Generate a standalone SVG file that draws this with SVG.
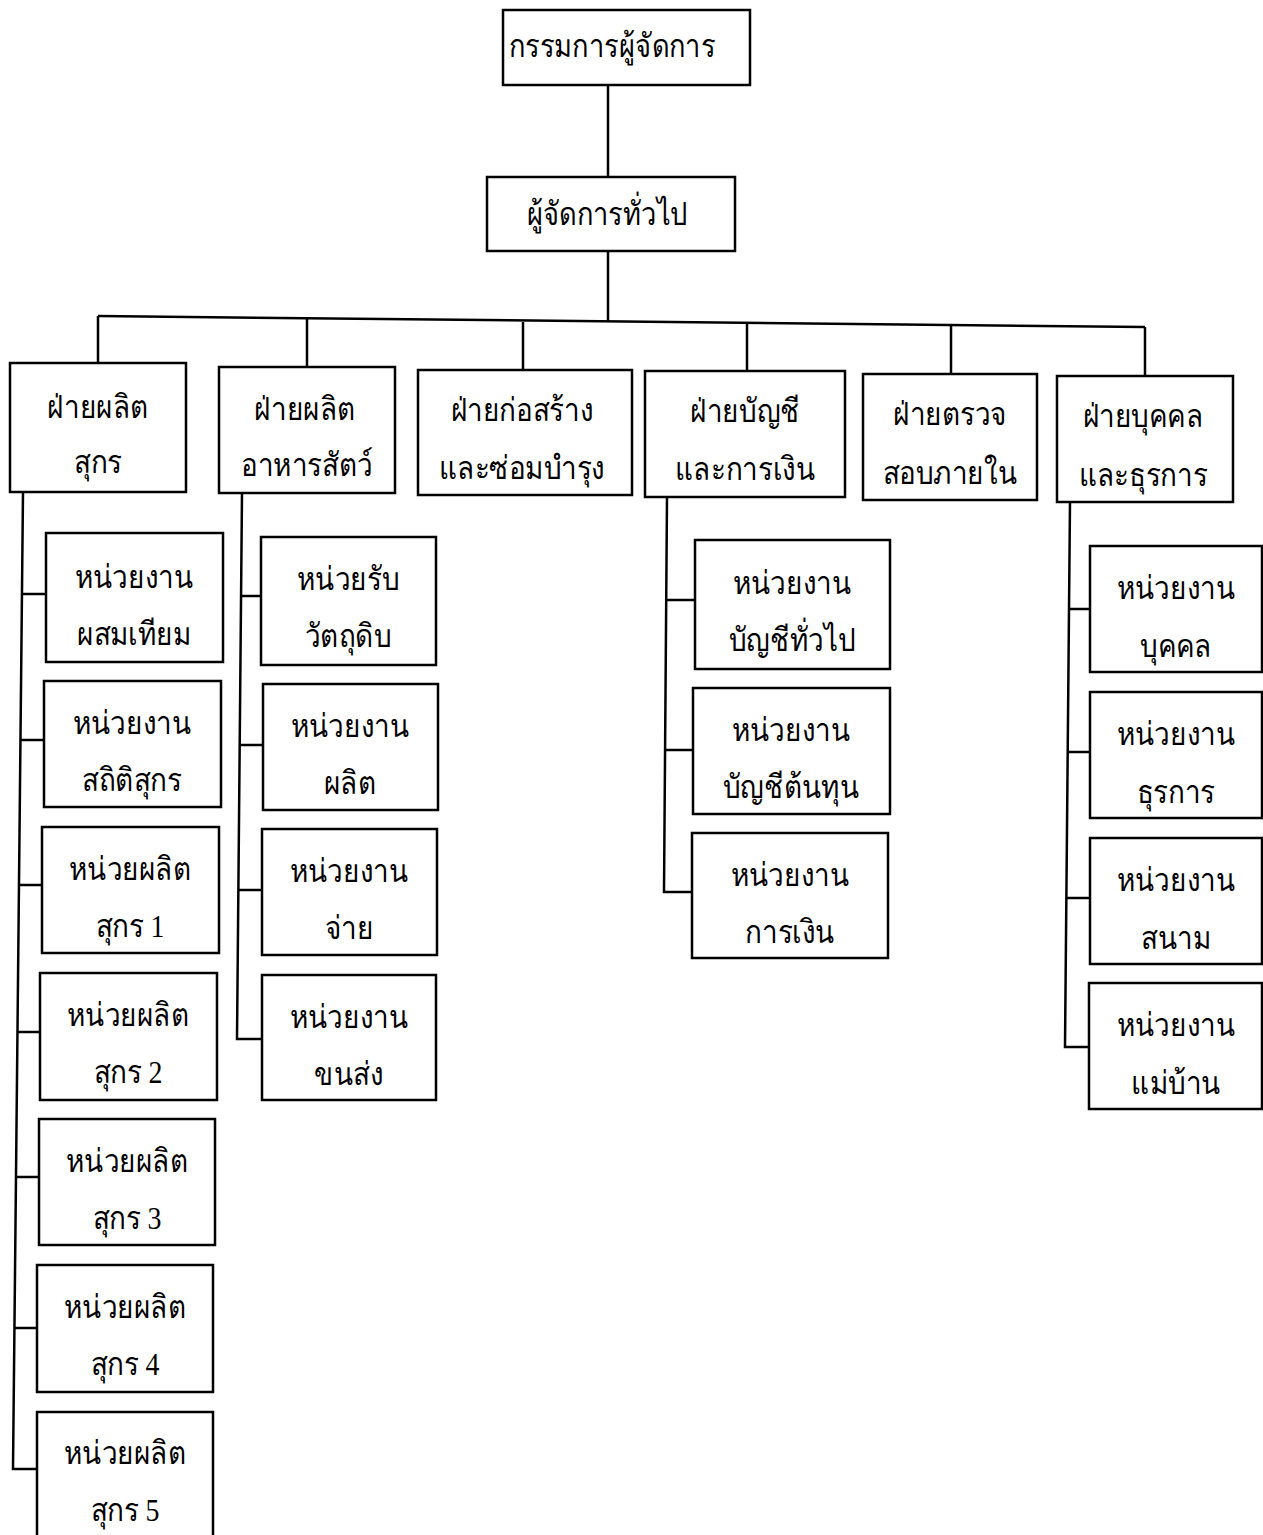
<svg xmlns="http://www.w3.org/2000/svg" width="1263" height="1535" viewBox="0 0 1263 1535">
<style>
.box{fill:#fff;stroke:#000;stroke-width:2.5}
.ln{fill:none;stroke:#000;stroke-width:2.5}
text{font-family:"Liberation Serif","Noto Sans",serif;font-size:31px;fill:#000;text-anchor:middle}
</style>
<rect width="1263" height="1535" fill="#fff"/>
<g id="connectors">
<line class="ln" x1="608" y1="85" x2="608" y2="177"/>
<line class="ln" x1="608" y1="251" x2="608" y2="322"/>
<line class="ln" x1="98" y1="316" x2="1145" y2="327"/>
<line class="ln" x1="98" y1="316" x2="98" y2="363"/>
<line class="ln" x1="307" y1="319" x2="307" y2="367"/>
<line class="ln" x1="523" y1="322" x2="523" y2="370"/>
<line class="ln" x1="747" y1="324" x2="747" y2="371"/>
<line class="ln" x1="951" y1="326" x2="951" y2="374"/>
<line class="ln" x1="1145" y1="327" x2="1145" y2="376"/>
<polyline class="ln" points="23,492 13,1469 37,1469"/>
<line class="ln" x1="22" y1="594" x2="46" y2="594"/>
<line class="ln" x1="21" y1="740" x2="44" y2="740"/>
<line class="ln" x1="19" y1="885" x2="42" y2="885"/>
<line class="ln" x1="18" y1="1032" x2="40" y2="1032"/>
<line class="ln" x1="16" y1="1177" x2="39" y2="1177"/>
<line class="ln" x1="15" y1="1328" x2="37" y2="1328"/>
<polyline class="ln" points="242,493 237,1039 262,1039"/>
<line class="ln" x1="241" y1="596" x2="261" y2="596"/>
<line class="ln" x1="239" y1="745" x2="263" y2="745"/>
<line class="ln" x1="238" y1="890" x2="262" y2="890"/>
<polyline class="ln" points="667,497 664,892 692,892"/>
<line class="ln" x1="666" y1="600" x2="695" y2="600"/>
<line class="ln" x1="665" y1="750" x2="693" y2="750"/>
<polyline class="ln" points="1070,502 1065,1047 1089,1047"/>
<line class="ln" x1="1069" y1="609" x2="1090" y2="609"/>
<line class="ln" x1="1068" y1="752" x2="1090" y2="752"/>
<line class="ln" x1="1066" y1="898" x2="1090" y2="898"/>
</g>
<g id="n-md"><rect class="box" x="503" y="10" width="247" height="75"/><text transform="translate(612 57) scale(0.88 1.05)">กรรมการผู้จัดการ</text></g>
<g id="n-gm"><rect class="box" x="487" y="177" width="248" height="74"/><text transform="translate(607 225) scale(0.88 1.05)">ผู้จัดการทั่วไป</text></g>
<g id="n-d1"><rect class="box" x="10" y="363" width="176" height="129"/><text transform="translate(98 418) scale(0.9 1.05)">ฝ่ายผลิต</text><text transform="translate(98 473) scale(0.9 1.05)">สุกร</text></g>
<g id="n-d2"><rect class="box" x="219" y="367" width="176" height="126"/><text transform="translate(305 420) scale(0.9 1.05)">ฝ่ายผลิต</text><text transform="translate(307 476) scale(0.9 1.05)">อาหารสัตว์</text></g>
<g id="n-d3"><rect class="box" x="418" y="370" width="214" height="125"/><text transform="translate(522 421) scale(0.9 1.05)">ฝ่ายก่อสร้าง</text><text transform="translate(522 479) scale(0.9 1.05)">และซ่อมบำรุง</text></g>
<g id="n-d4"><rect class="box" x="645" y="371" width="200" height="126"/><text transform="translate(745 422) scale(0.9 1.05)">ฝ่ายบัญชี</text><text transform="translate(745 480) scale(0.9 1.05)">และการเงิน</text></g>
<g id="n-d5"><rect class="box" x="863" y="374" width="174" height="126"/><text transform="translate(950 425) scale(0.9 1.05)">ฝ่ายตรวจ</text><text transform="translate(950 484) scale(0.9 1.05)">สอบภายใน</text></g>
<g id="n-d6"><rect class="box" x="1057" y="376" width="176" height="126"/><text transform="translate(1143 427) scale(0.9 1.05)">ฝ่ายบุคคล</text><text transform="translate(1143 486) scale(0.9 1.05)">และธุรการ</text></g>
<g id="n-a1"><rect class="box" x="46" y="533" width="177" height="129"/><text transform="translate(134 588) scale(0.9 1.05)">หน่วยงาน</text><text transform="translate(134 645) scale(0.9 1.05)">ผสมเทียม</text></g>
<g id="n-a2"><rect class="box" x="44" y="681" width="177" height="126"/><text transform="translate(132 734) scale(0.9 1.05)">หน่วยงาน</text><text transform="translate(132 791) scale(0.9 1.05)">สถิติสุกร</text></g>
<g id="n-a3"><rect class="box" x="42" y="827" width="177" height="126"/><text transform="translate(130 880) scale(0.9 1.05)">หน่วยผลิต</text><text transform="translate(130 937) scale(0.9 1.05)">สุกร 1</text></g>
<g id="n-a4"><rect class="box" x="40" y="973" width="177" height="127"/><text transform="translate(128 1026) scale(0.9 1.05)">หน่วยผลิต</text><text transform="translate(128 1083) scale(0.9 1.05)">สุกร 2</text></g>
<g id="n-a5"><rect class="box" x="39" y="1119" width="176" height="126"/><text transform="translate(127 1172) scale(0.9 1.05)">หน่วยผลิต</text><text transform="translate(127 1229) scale(0.9 1.05)">สุกร 3</text></g>
<g id="n-a6"><rect class="box" x="37" y="1265" width="176" height="127"/><text transform="translate(125 1318) scale(0.9 1.05)">หน่วยผลิต</text><text transform="translate(125 1375) scale(0.9 1.05)">สุกร 4</text></g>
<g id="n-a7"><rect class="box" x="37" y="1412" width="176" height="130"/><text transform="translate(125 1464) scale(0.9 1.05)">หน่วยผลิต</text><text transform="translate(125 1521) scale(0.9 1.05)">สุกร 5</text></g>
<g id="n-b1"><rect class="box" x="261" y="537" width="175" height="128"/><text transform="translate(348 590) scale(0.9 1.05)">หน่วยรับ</text><text transform="translate(348 647) scale(0.9 1.05)">วัตถุดิบ</text></g>
<g id="n-b2"><rect class="box" x="263" y="684" width="175" height="126"/><text transform="translate(350 737) scale(0.9 1.05)">หน่วยงาน</text><text transform="translate(350 794) scale(0.9 1.05)">ผลิต</text></g>
<g id="n-b3"><rect class="box" x="262" y="829" width="175" height="126"/><text transform="translate(349 882) scale(0.9 1.05)">หน่วยงาน</text><text transform="translate(349 939) scale(0.9 1.05)">จ่าย</text></g>
<g id="n-b4"><rect class="box" x="262" y="975" width="174" height="125"/><text transform="translate(349 1028) scale(0.9 1.05)">หน่วยงาน</text><text transform="translate(349 1085) scale(0.9 1.05)">ขนส่ง</text></g>
<g id="n-c1"><rect class="box" x="695" y="540" width="195" height="129"/><text transform="translate(792 594) scale(0.9 1.05)">หน่วยงาน</text><text transform="translate(792 651) scale(0.9 1.05)">บัญชีทั่วไป</text></g>
<g id="n-c2"><rect class="box" x="693" y="688" width="197" height="126"/><text transform="translate(791 741) scale(0.9 1.05)">หน่วยงาน</text><text transform="translate(791 798) scale(0.9 1.05)">บัญชีต้นทุน</text></g>
<g id="n-c3"><rect class="box" x="692" y="833" width="196" height="125"/><text transform="translate(790 886) scale(0.9 1.05)">หน่วยงาน</text><text transform="translate(790 943) scale(0.9 1.05)">การเงิน</text></g>
<g id="n-e1"><rect class="box" x="1090" y="546" width="172" height="126"/><text transform="translate(1176 599) scale(0.9 1.05)">หน่วยงาน</text><text transform="translate(1176 657) scale(0.9 1.05)">บุคคล</text></g>
<g id="n-e2"><rect class="box" x="1090" y="692" width="172" height="126"/><text transform="translate(1176 745) scale(0.9 1.05)">หน่วยงาน</text><text transform="translate(1176 803) scale(0.9 1.05)">ธุรการ</text></g>
<g id="n-e3"><rect class="box" x="1090" y="838" width="172" height="126"/><text transform="translate(1176 891) scale(0.9 1.05)">หน่วยงาน</text><text transform="translate(1176 949) scale(0.9 1.05)">สนาม</text></g>
<g id="n-e4"><rect class="box" x="1089" y="983" width="173" height="126"/><text transform="translate(1176 1036) scale(0.9 1.05)">หน่วยงาน</text><text transform="translate(1176 1094) scale(0.9 1.05)">แม่บ้าน</text></g>
</svg>
